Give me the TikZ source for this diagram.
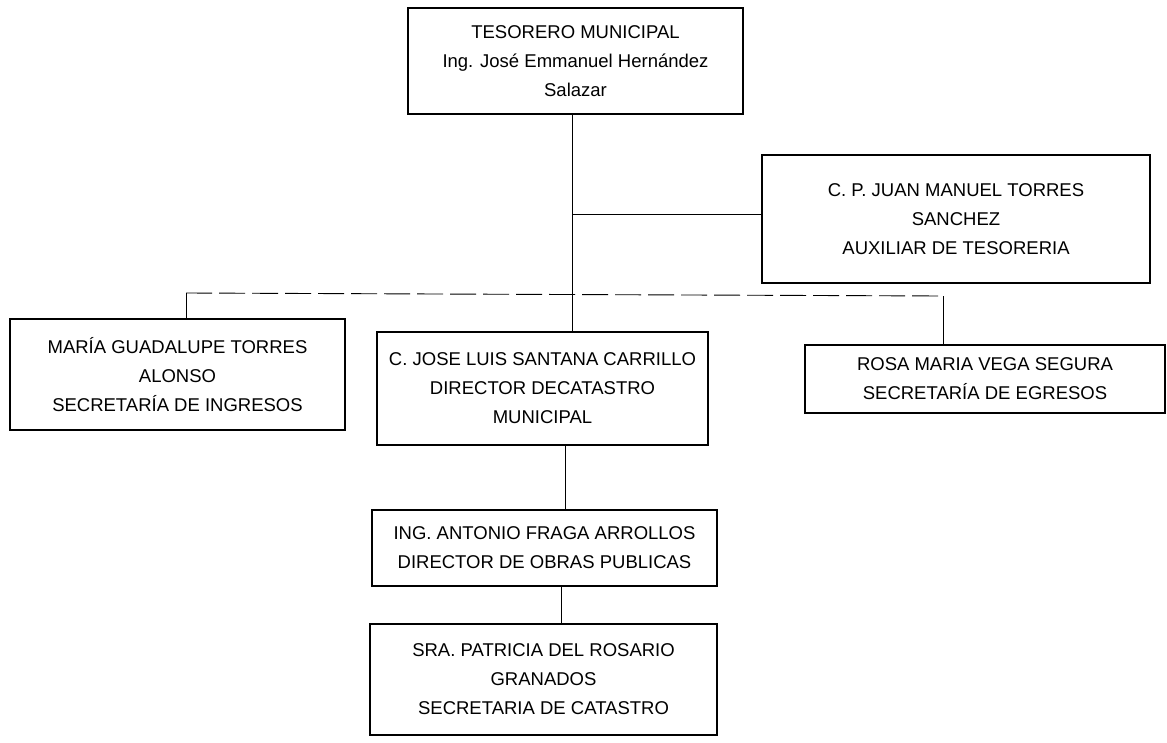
\documentclass[tikz,border=0pt]{standalone}
\usepackage{fontspec}
\setmainfont{Liberation Sans}
\tikzset{
  puesto/.style={draw, line width=1.1pt, align=center, inner sep=2pt,
    font=\fontsize{18.5}{29}\selectfont},
  enlace/.style={line width=0.9pt},
  ramal/.style={line width=0.9pt, dash pattern=on 26pt off 7pt}
}
\begin{document}
\begin{tikzpicture}[x=1pt, y=-1pt]
  \useasboundingbox (0,0) rectangle (1167,742);
  % puestos
  \node[puesto, minimum width=335pt, minimum height=106pt] (tes) at (575.5,61)
    {TESORERO MUNICIPAL\\Ing. José Emmanuel Hernández\\Salazar};
  \node[puesto, minimum width=388pt, minimum height=128pt] (aux) at (956,219)
    {C. P. JUAN MANUEL TORRES\\SANCHEZ\\AUXILIAR DE TESORERIA};
  \node[puesto, minimum width=335pt, minimum height=111pt] (ing) at (177.5,374.5)
    {MARÍA GUADALUPE TORRES\\ALONSO\\SECRETARÍA DE INGRESOS};
  \node[puesto, minimum width=331pt, minimum height=113pt] (cat) at (542.5,388.5)
    {C. JOSE LUIS SANTANA CARRILLO\\DIRECTOR DECATASTRO\\MUNICIPAL};
  \node[puesto, minimum width=360pt, minimum height=68pt] (egr) at (985,379)
    {ROSA MARIA VEGA SEGURA\\SECRETARÍA DE EGRESOS};
  \node[puesto, minimum width=345pt, minimum height=76pt] (obr) at (544.5,548)
    {ING. ANTONIO FRAGA ARROLLOS\\DIRECTOR DE OBRAS PUBLICAS};
  \node[puesto, minimum width=347pt, minimum height=111pt] (sec) at (543.5,679.5)
    {SRA. PATRICIA DEL ROSARIO\\GRANADOS\\SECRETARIA DE CATASTRO};
  % puntos de enlace
  \coordinate (eje) at (572,293);
  \coordinate (axj) at (572,214);
  \coordinate (bl) at (186,293);
  \coordinate (br) at (943,296);
  \coordinate (ob) at (565,500);
  \coordinate (se) at (561,600);
  % conectores
  \draw[enlace] (tes.south -| eje) -- (cat.north -| eje);
  \draw[enlace] (axj) -- (axj -| aux.west);
  \draw[ramal] (bl) -- (br);
  \draw[enlace] (bl) -- (bl |- ing.north);
  \draw[enlace] (br) -- (br |- egr.north);
  \draw[enlace] (cat.south -| ob) -- (obr.north -| ob);
  \draw[enlace] (obr.south -| se) -- (sec.north -| se);
\end{tikzpicture}
\end{document}
